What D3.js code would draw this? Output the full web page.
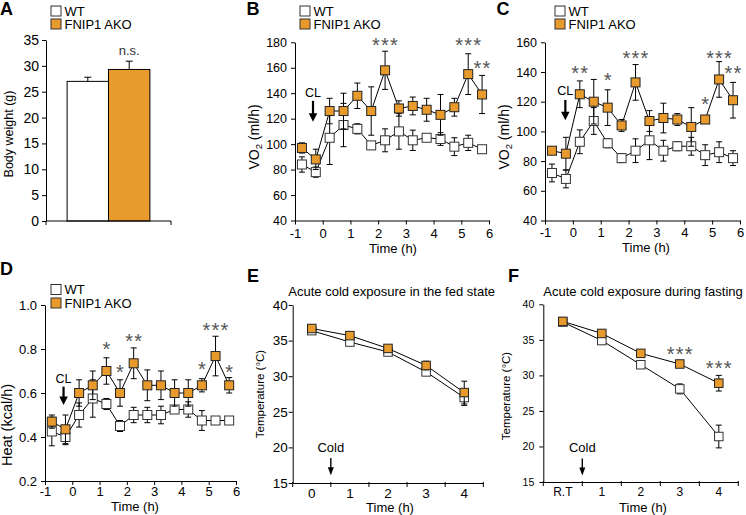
<!DOCTYPE html>
<html><head><meta charset="utf-8">
<script src="https://cdn.jsdelivr.net/npm/d3@7"></script>
<style>body{margin:0;background:#fff} svg{display:block}</style>
</head><body><svg id="c" width="746" height="515"></svg>
<script>
// ---------- DATA ----------
const groupsA = ["WT", "FNIP1 AKO"];
const weightA = [27.0, 29.3];
const weightErrA = [0.8, 1.6];
const ticksA = [0, 5, 10, 15, 20, 25, 30, 35];

const timeBCD = [-0.75, -0.25, 0.25, 0.75, 1.25, 1.75, 2.25, 2.75, 3.25, 3.75, 4.25, 4.75, 5.25, 5.75];
const timeTicks = [-1, 0, 1, 2, 3, 4, 5, 6];

const vo2B_WT = [84, 78, 105, 115, 112, 99, 103, 110, 103, 105, 104, 98, 101, 96];
const vo2B_WTerr = [6, 4, 21, 17, 4, 3, 9, 14, 8, 2, 5, 7, 6, 2];
const vo2B_AKO = [97, 88, 126, 126, 138, 126, 158, 128, 130, 127, 123, 129, 155, 139];
const vo2B_AKOerr = [4, 8, 10, 14, 10, 19, 15, 6, 7, 9, 16, 7, 16, 15];
const ticksB = [40, 60, 80, 100, 120, 140, 160, 180];
const starsB = [{x: 2.25, t: "***", v: 181}, {x: 5.25, t: "***", v: 181}, {x: 5.75, t: "**", v: 163.5}];

const vo2C_WT = [72, 68, 93, 107, 92, 82, 87, 94, 87, 90, 90, 84, 86, 82];
const vo2C_WTerr = [6, 6, 8, 9, 3, 3, 8, 13, 7, 3, 6, 7, 7, 5];
const vo2C_AKO = [87, 85, 125, 120, 116, 104, 133, 107, 109, 108, 103, 108, 135, 121];
const vo2C_AKOerr = [2, 11, 9, 15, 12, 4, 12, 7, 10, 4, 13, 2, 12, 12];
const ticksC = [40, 60, 80, 100, 120, 140, 160];
const starsC = [{x: 0.25, t: "**", v: 142.5}, {x: 1.25, t: "*", v: 137.3}, {x: 2.25, t: "***", v: 152.6},
                {x: 4.75, t: "*", v: 121.7}, {x: 5.25, t: "***", v: 152.6}, {x: 5.75, t: "**", v: 142.5}];

const heatD_WT = [0.425, 0.40, 0.50, 0.575, 0.55, 0.45, 0.50, 0.50, 0.50, 0.525, 0.525, 0.475, 0.475, 0.475];
const heatD_WTerr = [0.065, 0.035, 0.055, 0.085, 0.025, 0.025, 0.035, 0.035, 0.04, 0.015, 0.035, 0.045, 0.015, 0.015];
const heatD_AKO = [0.47, 0.435, 0.60, 0.635, 0.70, 0.60, 0.735, 0.635, 0.635, 0.60, 0.60, 0.635, 0.768, 0.635];
const heatD_AKOerr = [0.03, 0.065, 0.06, 0.065, 0.06, 0.06, 0.07, 0.07, 0.065, 0.06, 0.06, 0.03, 0.09, 0.035];
const ticksD = [0.2, 0.4, 0.6, 0.8, 1.0];
const starsD = [{x: 1.25, t: "*", v: 0.818}, {x: 1.75, t: "*", v: 0.715}, {x: 2.25, t: "**", v: 0.856},
                {x: 4.75, t: "*", v: 0.73}, {x: 5.25, t: "***", v: 0.906}, {x: 5.75, t: "*", v: 0.715}];

const catsE = ["0", "1", "2", "3", "4"];
const tempE_WT = [36.4, 34.8, 33.4, 30.6, 27.0];
const tempE_WTerr = [0.3, 0.3, 0.3, 0.4, 1.1];
const tempE_AKO = [36.7, 35.7, 33.9, 31.5, 27.7];
const tempE_AKOerr = [0.3, 0.3, 0.3, 0.6, 1.6];

const catsF = ["R.T", "1", "2", "3", "4"];
const tempF_WT = [37.5, 34.9, 31.5, 28.1, 21.4];
const tempF_WTerr = [0.2, 0.3, 0.3, 0.7, 1.6];
const tempF_AKO = [37.6, 35.9, 33.1, 31.6, 28.9];
const tempF_AKOerr = [0.3, 0.3, 0.3, 0.4, 1.1];
const ticksEF = [15, 20, 25, 30, 35, 40];
const starsF = [{c: "3", t: "***", v: 33.56}, {c: "4", t: "***", v: 31.7}];

// ---------- STYLE ----------
const FONT = '"Liberation Sans", Arial, Helvetica, sans-serif';
const ORANGE = "#E89B2C";
const svg = d3.select("#c");

function txt(g, x, y, s, fs, opts = {}) {
  const t = g.append("text").attr("x", x).attr("y", y).text(s)
    .attr("font-family", FONT).attr("font-size", fs).attr("fill", opts.fill || "#000");
  if (opts.anchor) t.attr("text-anchor", opts.anchor);
  if (opts.weight) t.attr("font-weight", opts.weight);
  if (opts.ls) t.attr("letter-spacing", opts.ls);
  return t;
}
function rotLabel(g, x, y, s, fs) {
  return g.append("text").attr("transform", `translate(${x},${y}) rotate(-90)`)
    .attr("text-anchor", "middle").attr("font-family", FONT).attr("font-size", fs).text(s);
}
function yAxis(g, y, ticks, fmt, fs, x0, pad) {
  const ax = d3.axisLeft(y).tickValues(ticks).tickSize(4).tickSizeOuter(0).tickPadding(pad)
    .tickFormat(fmt || (d => String(d)));
  const a = g.append("g").attr("transform", `translate(${x0},0)`).call(ax);
  a.selectAll("text").attr("font-size", fs).attr("font-family", FONT).attr("fill", "#000");
  a.select(".domain").attr("stroke", "#000");
  a.selectAll(".tick line").attr("stroke", "#000");
}
function xAxisLinear(g, x, y0, ticks, fs, pad) {
  const ax = d3.axisBottom(x).tickValues(ticks).tickSize(4).tickSizeOuter(0).tickPadding(pad)
    .tickFormat(d => String(d));
  const a = g.append("g").attr("transform", `translate(0,${y0})`).call(ax);
  a.selectAll("text").attr("font-size", fs).attr("font-family", FONT).attr("fill", "#000");
  a.select(".domain").attr("stroke", "#000");
  a.selectAll(".tick line").attr("stroke", "#000");
}
function xAxisBand(g, x, y0, fs, pad) {
  const ax = d3.axisBottom(x).tickSize(0).tickSizeOuter(0).tickPadding(pad);
  const a = g.append("g").attr("transform", `translate(0,${y0})`).call(ax);
  a.selectAll("text").attr("font-size", fs).attr("font-family", FONT).attr("fill", "#000");
  a.select(".domain").attr("stroke", "#000");
  const bounds = x.domain().map(d => x(d)).concat([x.range()[1]]);
  a.selectAll("line.bt").data(bounds).join("line").attr("class", "bt")
    .attr("x1", d => d).attr("x2", d => d).attr("y1", -1).attr("y2", 4).attr("stroke", "#000");
}
function series(g, xs, vals, errs, y, fill, stroke, size, cap) {
  const pts = vals.map((v, i) => ({x: xs[i], v, e: errs[i]}));
  const eg = g.append("g").attr("stroke", "#000").attr("stroke-width", 1);
  eg.selectAll("line.v").data(pts).join("line").attr("x1", d => d.x).attr("x2", d => d.x)
    .attr("y1", d => y(d.v + d.e)).attr("y2", d => y(d.v - d.e));
  eg.selectAll("line.t").data(pts).join("line").attr("x1", d => d.x - cap).attr("x2", d => d.x + cap)
    .attr("y1", d => y(d.v + d.e)).attr("y2", d => y(d.v + d.e));
  eg.selectAll("line.b").data(pts).join("line").attr("x1", d => d.x - cap).attr("x2", d => d.x + cap)
    .attr("y1", d => y(d.v - d.e)).attr("y2", d => y(d.v - d.e));
  g.append("path").datum(pts).attr("fill", "none").attr("stroke", "#000").attr("stroke-width", 1)
    .attr("d", d3.line().x(d => d.x).y(d => y(d.v)));
  g.selectAll(null).data(pts).join("rect").attr("x", d => d.x - size / 2).attr("y", d => y(d.v) - size / 2)
    .attr("width", size).attr("height", size).attr("fill", fill).attr("stroke", stroke).attr("stroke-width", 1);
}
function arrow(g, x, yTop, yTip, hw, hh, sw) {
  g.append("rect").attr("x", x - sw / 2).attr("y", yTop).attr("width", sw).attr("height", yTip - hh - yTop + 1).attr("fill", "#000");
  g.append("path").attr("d", `M${x - hw / 2},${yTip - hh} L${x + hw / 2},${yTip - hh} L${x},${yTip} Z`).attr("fill", "#000");
}
function legend(g, x, y1, y2) {
  g.append("rect").attr("x", x).attr("y", y1).attr("width", 10).attr("height", 10).attr("fill", "#fff").attr("stroke", "#333");
  g.append("rect").attr("x", x).attr("y", y2).attr("width", 10).attr("height", 10).attr("fill", ORANGE).attr("stroke", "#333");
  txt(g, x + 13.5, y1 + 9.5, groupsA[0], 13);
  txt(g, x + 13.5, y2 + 9.5, groupsA[1], 13);
}
function stars(g, list, xf, y, fs) {
  list.forEach(s => txt(g, xf(s) + 0.5, y(s.v) + 0.57 * fs, s.t, fs, {anchor: "middle", fill: "#555", ls: 1.2}));
}

// ---------- PANEL A ----------
{
  const g = svg.append("g");
  const yA = d3.scaleLinear().domain([0, 35]).range([221, 40]);
  const xA = d3.scaleBand().domain(["Body weight"]).range([46, 171]).paddingInner(0).paddingOuter(0.255);
  const xG = d3.scaleBand().domain(groupsA).range([xA("Body weight"), xA("Body weight") + xA.bandwidth()]);
  const fills = ["#fff", ORANGE];
  groupsA.forEach((k, i) => {
    const cx = xG(k) + xG.bandwidth() / 2;
    g.append("line").attr("x1", cx).attr("x2", cx).attr("y1", yA(weightA[i])).attr("y2", yA(weightA[i] + weightErrA[i])).attr("stroke", "#000");
    g.append("line").attr("x1", cx - 3.5).attr("x2", cx + 3.5).attr("y1", yA(weightA[i] + weightErrA[i])).attr("y2", yA(weightA[i] + weightErrA[i])).attr("stroke", "#000");
    g.append("rect").attr("x", xG(k)).attr("y", yA(weightA[i])).attr("width", xG.bandwidth()).attr("height", yA(0) - yA(weightA[i]))
      .attr("fill", fills[i]).attr("stroke", "#000").attr("stroke-width", 1);
  });
  yAxis(g, yA, ticksA, null, 14, 46, 3);
  g.append("line").attr("x1", 46).attr("x2", 171).attr("y1", 221).attr("y2", 221).attr("stroke", "#000");
  xA.range().forEach(xx => g.append("line").attr("x1", xx).attr("x2", xx).attr("y1", 221).attr("y2", 225).attr("stroke", "#000"));
  txt(g, xG("FNIP1 AKO") + xG.bandwidth() / 2, yA(32.9) + 4.5, "n.s.", 13, {anchor: "middle", fill: "#333"});
  rotLabel(g, 12.5, 134, "Body weight (g)", 12.5);
  legend(g, 51, 6, 19);
  txt(g, 0, 15, "A", 18, {weight: "bold"});
}

// ---------- PANELS B, C, D ----------
function timePanel(cfg) {
  const g = svg.append("g");
  const {x, y} = cfg;
  const xs = timeBCD.map(t => x(t));
  series(g, xs, cfg.wt, cfg.wtErr, y, "#fff", "#333", 9, 3);
  series(g, xs, cfg.ako, cfg.akoErr, y, ORANGE, "#222", 9, 3);
  yAxis(g, y, cfg.yTicks, cfg.fmt, cfg.yfs, x(-1), 4);
  xAxisLinear(g, x, y.range()[0], timeTicks, 13, cfg.xpad);
  stars(g, cfg.stars, s => x(s.x), y, 20);
  // CL arrow
  txt(g, x(cfg.cl.x), y(cfg.cl.text), "CL", 12.5, {anchor: "middle"});
  arrow(g, x(cfg.cl.x), y(cfg.cl.top), y(cfg.cl.tip), 8.5, 8.5, 2.2);
  txt(g, cfg.xlab[0], cfg.xlab[1], "Time (h)", 13, {anchor: "middle"});
  legend(g, cfg.leg[0], cfg.leg[1], cfg.leg[2]);
  txt(g, cfg.letter[0], cfg.letter[1], cfg.letter[2], 18, {weight: "bold"});
  return g;
}
function vo2Label(g, x, y) {
  const t = g.append("text").attr("transform", `translate(${x},${y}) rotate(-90)`).attr("text-anchor", "middle")
    .attr("font-family", FONT).attr("font-size", 14);
  t.append("tspan").text("VO");
  t.append("tspan").text("2").attr("font-size", 9.5).attr("dy", 3);
  t.append("tspan").text(" (ml/h)").attr("dy", -3);
}
{
  const g = timePanel({
    x: d3.scaleLinear().domain([-1, 6]).range([295, 489]),
    y: d3.scaleLinear().domain([40, 180]).range([220.5, 42.3]),
    wt: vo2B_WT, wtErr: vo2B_WTerr, ako: vo2B_AKO, akoErr: vo2B_AKOerr,
    yTicks: ticksB, fmt: null, yfs: 12.5, stars: starsB, xpad: 4.5,
    cl: {x: -0.35, text: 137, top: 134, tip: 117.5},
    xlab: [393, 252.5], leg: [300, 6, 19], letter: [246.5, 15, "B"]
  });
  vo2Label(g, 259, 137);
}
{
  const g = timePanel({
    x: d3.scaleLinear().domain([-1, 6]).range([545, 740]),
    y: d3.scaleLinear().domain([40, 160]).range([220.5, 42.3]),
    wt: vo2C_WT, wtErr: vo2C_WTerr, ako: vo2C_AKO, akoErr: vo2C_AKOerr,
    yTicks: ticksC, fmt: null, yfs: 12.5, stars: starsC, xpad: 3.5,
    cl: {x: -0.27, text: 124.6, top: 121.2, tip: 107.5},
    xlab: [646, 252], leg: [555, 6, 19], letter: [496.5, 15, "C"]
  });
  vo2Label(g, 509, 137);
}
{
  const g = timePanel({
    x: d3.scaleLinear().domain([-1, 6]).range([45, 236]),
    y: d3.scaleLinear().domain([0.2, 1.0]).range([481, 305]),
    wt: heatD_WT, wtErr: heatD_WTerr, ako: heatD_AKO, akoErr: heatD_AKOerr,
    yTicks: ticksD, fmt: d3.format(".1f"), yfs: 13, stars: starsD, xpad: 1.5,
    cl: {x: -0.32, text: 0.644, top: 0.629, tip: 0.545},
    xlab: [135, 510.5], leg: [51, 284.5, 298], letter: [0, 275, "D"]
  });
  rotLabel(g, 11.5, 425, "Heat (kcal/h)", 14.5);
}

// ---------- PANELS E, F ----------
function tempPanel(cfg) {
  const g = svg.append("g");
  const {x, y} = cfg;
  const xs = x.domain().map(c => x(c) + x.bandwidth() / 2);
  series(g, xs, cfg.wt, cfg.wtErr, y, "#fff", "#333", 8.5, 3);
  series(g, xs, cfg.ako, cfg.akoErr, y, ORANGE, "#222", 8.5, 3);
  yAxis(g, y, ticksEF, null, cfg.yfs, x.range()[0], cfg.ypad);
  xAxisBand(g, x, y.range()[0], cfg.xfs, cfg.xpad);
  if (cfg.stars) stars(g, cfg.stars, s => x(s.c) + x.bandwidth() / 2, y, 20);
  const ax = x(x.domain()[1]);
  txt(g, ax, y(cfg.cold.text), "Cold", 13, {anchor: "middle"});
  arrow(g, ax, y(cfg.cold.top), y(cfg.cold.tip), 6, 8, 1.4);
  txt(g, cfg.title[0], 296, cfg.title[1], 13);
  txt(g, cfg.xlab, 511.5, "Time (h)", 13, {anchor: "middle"});
  rotLabel(g, cfg.ylab[0], cfg.ylab[1], "Temperature (°C)", 11.5);
  txt(g, cfg.letter[0], 282, cfg.letter[1], 18, {weight: "bold"});
}
tempPanel({
  x: d3.scaleBand().domain(catsE).range([292.7, 483.3]),
  y: d3.scaleLinear().domain([15, 40]).range([483, 305]),
  wt: tempE_WT, wtErr: tempE_WTerr, ako: tempE_AKO, akoErr: tempE_AKOerr,
  yfs: 13.5, ypad: 1, xfs: 13.5, xpad: 5.5,
  cold: {text: 19.4, top: 18.5, tip: 16.1},
  title: [288.3, "Acute cold exposure in the fed state"], xlab: 390, ylab: [263.5, 394], letter: [247, "E"]
});
tempPanel({
  x: d3.scaleBand().domain(catsF).range([543.3, 738.3]),
  y: d3.scaleLinear().domain([15, 40]).range([482, 304.3]),
  wt: tempF_WT, wtErr: tempF_WTerr, ako: tempF_AKO, akoErr: tempF_AKOerr,
  yfs: 10.5, ypad: 5, xfs: 12, xpad: 5, stars: starsF,
  cold: {text: 19.24, top: 18.3, tip: 15.9},
  title: [543.3, "Acute cold exposure during fasting"], xlab: 643, ylab: [510, 396], letter: [508, "F"]
});
</script></body></html>
